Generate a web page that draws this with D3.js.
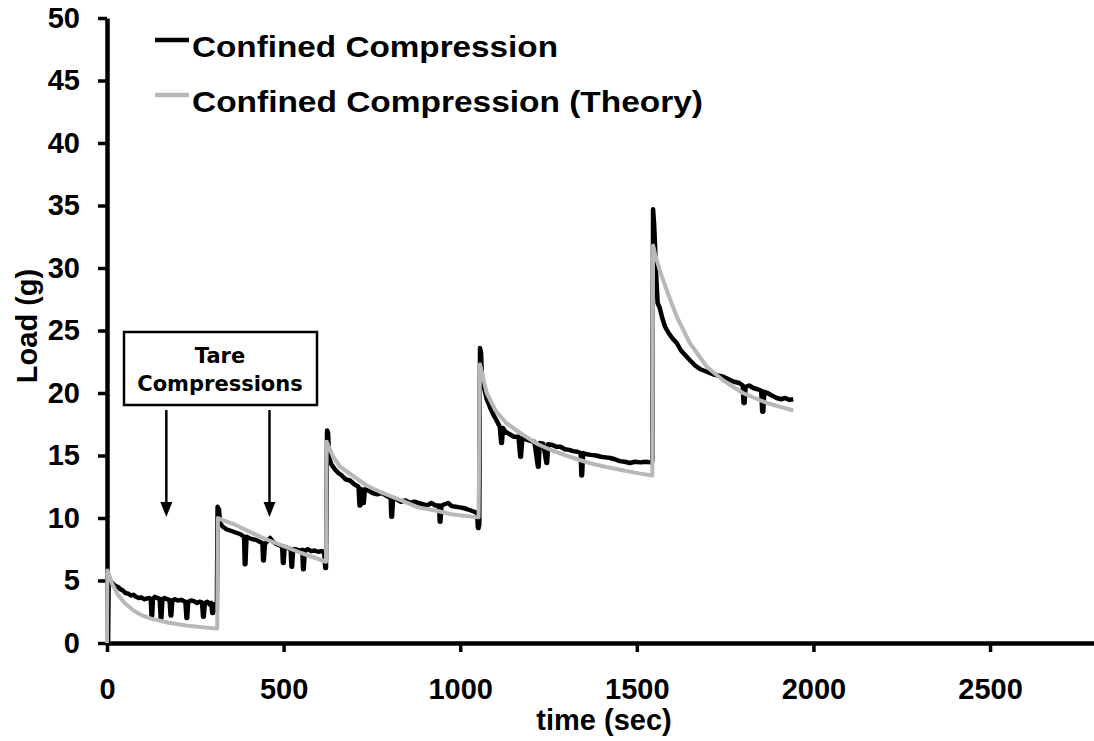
<!DOCTYPE html>
<html>
<head>
<meta charset="utf-8">
<script src="https://cdn.jsdelivr.net/npm/d3@7"></script>
<style>
  body { margin: 0; background: #fff; }
  svg { display: block; font-family: "Liberation Sans", Arial, sans-serif; font-weight: bold; }
</style>
</head>
<body>
<svg width="1094" height="741"></svg>
<script>
// load relaxation under confined compression, measured vs theory

var measuredTime = [
  0, 3, 5, 8, 15, 22, 30, 38, 45, 52, 60, 68, 75, 82, 90, 97, 105, 112, 120, 124, 126, 128, 130,
  135, 142, 149, 152, 154, 157, 163, 170, 177, 180, 182, 185, 192, 200, 210, 222, 225, 227, 230,
  238, 246, 255, 262, 269, 272, 274, 277, 284, 290, 295, 298, 300, 303, 308, 311,
  313, 317, 320, 328, 338, 348, 358, 368, 378, 388, 390, 392, 395, 402, 412, 422, 432, 440,
  442, 444, 447, 455, 462, 470, 480, 490, 496, 498, 500, 503, 512, 520, 522, 524, 527, 535,
  545, 553, 555, 557, 560, 568, 578, 588, 598, 608, 615, 618, 620,
  623, 626, 629, 635, 645, 655, 665, 675, 688, 700, 712, 715, 717, 720, 725, 727, 730, 740,
  752, 765, 778, 790, 803, 805, 807, 810, 820, 832, 845, 858, 870, 882, 894, 906, 918, 930,
  940, 942, 944, 947, 956, 966, 976, 988, 998, 1009, 1020, 1030, 1040, 1048, 1050, 1052, 1054,
  1056, 1059, 1062, 1068, 1075, 1085, 1095, 1103, 1112, 1116, 1118, 1121, 1128, 1140, 1152,
  1165, 1170, 1172, 1176, 1185, 1197, 1210, 1220, 1222, 1225, 1235, 1244, 1246, 1249, 1260,
  1272, 1284, 1296, 1308, 1320, 1332, 1341, 1343, 1345, 1348, 1358, 1370, 1385, 1398, 1412,
  1425, 1438, 1452, 1466, 1480, 1495, 1510, 1525, 1540, 1544,
  1546, 1549, 1552, 1555, 1559, 1565, 1572, 1580, 1590, 1600, 1613, 1625, 1638, 1651, 1665,
  1680, 1698, 1715, 1730, 1745, 1760, 1775, 1790, 1800, 1802, 1805, 1808, 1818, 1830, 1842,
  1852, 1855, 1858, 1861, 1870, 1882, 1896, 1908, 1920, 1932, 1943
];
var measuredLoad = [
  0, 0, 5.4, 5.0, 4.8, 4.6, 4.5, 4.3, 4.2, 4.0, 3.95, 3.8, 3.85, 3.7, 3.6, 3.65, 3.5, 3.55, 3.6, 3.5, 2.1, 2.2, 3.5,
  3.7, 3.6, 3.55, 2.0, 2.0, 3.5, 3.6, 3.5, 3.45, 2.2, 2.2, 3.4, 3.5, 3.4, 3.45, 3.3, 2.0, 2.0, 3.3,
  3.4, 3.35, 3.2, 3.3, 3.25, 2.1, 2.1, 3.2, 3.3, 3.1, 3.2, 2.4, 2.4, 3.1, 2.8, 2.6,
  10.9, 10.7, 9.6, 9.3, 9.1, 9.0, 8.9, 8.8, 8.7, 8.5, 6.3, 6.3, 8.5, 8.4, 8.3, 8.25, 8.1, 8.0,
  6.6, 6.6, 7.9, 8.2, 8.4, 8.1, 7.9, 7.8, 7.7, 6.4, 6.4, 7.7, 7.6, 7.5, 6.1, 6.1, 7.5, 7.5,
  7.4, 7.45, 5.9, 5.9, 7.4, 7.5, 7.35, 7.4, 7.3, 7.35, 7.2, 6.0, 6.0,
  17.0, 16.8, 14.8, 14.3, 13.9, 13.6, 13.4, 13.1, 13.0, 12.7, 12.5, 11.0, 11.0, 12.3, 11.2, 11.2, 12.3, 12.2,
  12.0, 11.9, 12.0, 11.8, 11.6, 10.1, 10.1, 11.6, 11.5, 11.3, 11.4, 11.2, 11.3, 11.2, 11.1, 11.0, 11.2, 11.0,
  11.0, 9.7, 9.7, 11.0, 11.1, 11.2, 10.95, 10.9, 10.85, 10.8, 10.7, 10.6, 10.5, 10.4, 9.2, 9.2, 9.5,
  23.6, 23.2, 21.0, 20.4, 19.5, 18.8, 18.2, 17.8, 17.3, 16.0, 16.0, 17.2, 16.9, 16.7, 16.5,
  16.5, 14.9, 14.9, 16.4, 16.3, 16.2, 16.1, 14.1, 14.1, 16.0, 15.95, 14.4, 14.4, 15.9, 15.85,
  15.7, 15.7, 15.5, 15.45, 15.35, 15.3, 15.2, 13.4, 13.4, 15.2, 15.1, 15.05, 15.0, 14.9, 14.85,
  14.8, 14.7, 14.55, 14.5, 14.4, 14.5, 14.45, 14.5, 14.45, 14.6,
  34.7, 33.5, 31.5, 29.3, 27.2, 26.8, 26.0, 25.3, 24.8, 24.4, 24.0, 23.4, 23.0, 22.6, 22.2,
  21.9, 21.7, 21.5, 21.4, 21.3, 21.1, 20.9, 20.8, 20.6, 19.2, 19.2, 20.5, 20.6, 20.4, 20.3,
  20.2, 18.5, 18.5, 20.1, 20.0, 19.8, 19.6, 19.5, 19.6, 19.45, 19.5
];

// theoretical curve
var theoryTime = [
  0, 1, 15, 30, 50, 75, 100, 125, 150, 175, 200, 225, 250, 275, 300, 312,
  314, 330, 360, 400, 450, 500, 550, 600, 620,
  622, 640, 660, 690, 735, 780, 830, 880, 930, 975, 1020, 1052,
  1056, 1075, 1100, 1130, 1170, 1220, 1260, 1310, 1365, 1410, 1463, 1510, 1544,
  1546, 1551, 1565, 1585, 1613, 1650, 1698, 1745, 1800, 1868, 1943
];
var theoryLoad = [
  0, 5.8, 4.7, 3.9, 3.2, 2.6, 2.2, 1.95, 1.78, 1.62, 1.5, 1.4, 1.32, 1.25, 1.18, 1.15,
  10.0, 9.8, 9.5, 8.95, 8.3, 7.75, 7.2, 6.7, 6.5,
  16.1, 14.9, 14.1, 13.5, 12.6, 12.0, 11.45, 10.85, 10.6, 10.3, 10.15, 10.05,
  22.3, 20.0, 18.6, 17.6, 16.8, 15.9, 15.4, 14.9, 14.4, 14.1, 13.8, 13.55, 13.4,
  31.8, 31.2, 29.8, 28.2, 26.1, 24.0, 22.1, 21.0, 20.0, 19.2, 18.6
];

var seriesNames = ["Confined Compression", "Confined Compression (Theory)"];
var seriesColors = ["#000000", "#b8b8b8"];
var xTicks = [0, 500, 1000, 1500, 2000, 2500];
var yTicks = [0, 5, 10, 15, 20, 25, 30, 35, 40, 45, 50];
var tareTimes = [168, 460];

var svg = d3.select("svg");

var x = d3.scaleLinear().domain([0, 2800]).range([107, 1096]);
var y = d3.scaleLinear().domain([0, 50]).range([643, 18]);

// axes
var xAxis = svg.append("g")
    .attr("transform", "translate(0,643)")
    .call(d3.axisBottom(x).tickValues(xTicks).tickSize(9).tickSizeOuter(0).tickPadding(26).tickFormat(d3.format("d")));

var yAxis = svg.append("g")
    .attr("transform", "translate(107,0)")
    .call(d3.axisLeft(y).tickValues(yTicks).tickSize(9).tickSizeOuter(0).tickPadding(18));

[xAxis, yAxis].forEach(function(g) {
    g.select(".domain").attr("stroke", "#000").attr("stroke-width", 4.5);
    g.selectAll(".tick line").attr("stroke", "#000").attr("stroke-width", 3.5);
    g.selectAll(".tick text")
     .attr("fill", "#000")
     .style("font-family", "'Liberation Sans', Arial, sans-serif")
     .style("font-weight", "bold")
     .style("font-size", "29px");
});

// axis titles
svg.append("text")
   .attr("x", 604).attr("y", 730)
   .attr("text-anchor", "middle")
   .style("font-size", "29px")
   .text("time (sec)");

svg.append("text")
   .attr("transform", "translate(37,326) rotate(-90)")
   .attr("text-anchor", "middle")
   .style("font-size", "29px")
   .text("Load (g)");

// lines
var measured = measuredTime.map(function(t, i) { return [t, measuredLoad[i]]; });
var theory = theoryTime.map(function(t, i) { return [t, theoryLoad[i]]; });

var line = d3.line()
    .x(function(d) { return x(d[0]); })
    .y(function(d) { return y(d[1]); });

svg.append("path")
   .datum(measured)
   .attr("fill", "none")
   .attr("stroke", seriesColors[0])
   .attr("stroke-width", 4.5)
   .attr("stroke-linejoin", "round")
   .attr("d", line);

svg.append("path")
   .datum(theory)
   .attr("fill", "none")
   .attr("stroke", seriesColors[1])
   .attr("stroke-width", 4)
   .attr("stroke-linejoin", "round")
   .attr("d", line);

// legend
var legend = svg.append("g");
var legendWidths = [366, 511];
seriesNames.forEach(function(name, i) {
    var ly = 40 + i * 55;
    legend.append("line")
          .attr("x1", 155).attr("x2", 189)
          .attr("y1", ly).attr("y2", ly)
          .attr("stroke", seriesColors[i])
          .attr("stroke-width", 4.5);
    legend.append("text")
          .attr("x", 192).attr("y", ly + 17)
          .attr("textLength", legendWidths[i])
          .attr("lengthAdjust", "spacingAndGlyphs")
          .style("font-size", "30px")
          .text(name);
});

// tare compressions annotation
svg.append("rect")
   .attr("x", 124).attr("y", 332)
   .attr("width", 193).attr("height", 73)
   .attr("fill", "#fff")
   .attr("stroke", "#000")
   .attr("stroke-width", 2.5);

svg.append("text")
   .attr("x", 220).attr("y", 363)
   .attr("text-anchor", "middle")
   .style("font-family", "'DejaVu Sans', Verdana, sans-serif")
   .style("font-size", "21px")
   .text("Tare");

svg.append("text")
   .attr("x", 220).attr("y", 391)
   .attr("text-anchor", "middle")
   .style("font-family", "'DejaVu Sans', Verdana, sans-serif")
   .style("font-size", "21px")
   .text("Compressions");

var arrows = svg.append("g").selectAll("g").data(tareTimes).enter().append("g");
arrows.append("line")
      .attr("x1", function(d) { return x(d); })
      .attr("x2", function(d) { return x(d); })
      .attr("y1", 410).attr("y2", 505)
      .attr("stroke", "#000")
      .attr("stroke-width", 2.5);
arrows.append("path")
      .attr("d", function(d) {
          var cx = x(d);
          return "M" + (cx - 6) + ",502L" + (cx + 6) + ",502L" + cx + ",517Z";
      })
      .attr("fill", "#000");
</script>
</body>
</html>
